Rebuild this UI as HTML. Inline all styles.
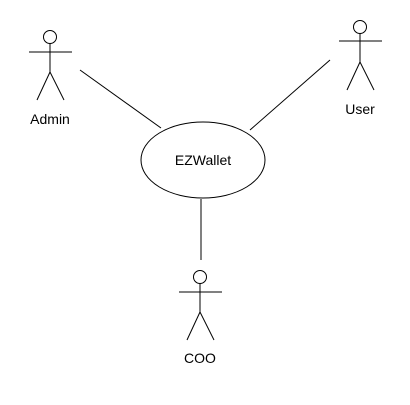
<!DOCTYPE html>
<html><head><style>body{margin:0;background:#fff}</style></head>
<body>
<svg width="410" height="400" viewBox="0 0 410 400" xmlns="http://www.w3.org/2000/svg" font-family="Liberation Sans, Arial, sans-serif" font-size="14" fill="none" stroke="#000" stroke-width="1">
<line x1="80" y1="70" x2="161" y2="128"/>
<line x1="330" y1="60" x2="250" y2="130"/>
<line x1="201" y1="199" x2="201" y2="260"/>
<ellipse cx="203" cy="160" rx="62" ry="38"/>
<!-- Admin -->
<circle cx="50" cy="37" r="6.5"/>
<line x1="29" y1="52" x2="72" y2="52"/>
<line x1="50" y1="43.5" x2="50" y2="72"/>
<line x1="50" y1="72" x2="37" y2="100"/>
<line x1="50" y1="72" x2="64" y2="100"/>
<!-- User -->
<circle cx="360" cy="27" r="6.5"/>
<line x1="339" y1="41" x2="382" y2="41"/>
<line x1="360" y1="33.5" x2="360" y2="62"/>
<line x1="360" y1="62" x2="347" y2="90"/>
<line x1="360" y1="62" x2="374" y2="90"/>
<!-- COO -->
<circle cx="200" cy="277" r="6.5"/>
<line x1="179" y1="292" x2="222" y2="292"/>
<line x1="200" y1="283.5" x2="200" y2="312"/>
<line x1="200" y1="312" x2="187" y2="340"/>
<line x1="200" y1="312" x2="214" y2="340"/>
<g fill="#000" stroke="none" text-anchor="middle">
<text x="50" y="124">Admin</text>
<text x="360" y="114">User</text>
<text x="200" y="363">COO</text>
<text x="203" y="165">EZWallet</text>
</g>
</svg>
</body></html>
